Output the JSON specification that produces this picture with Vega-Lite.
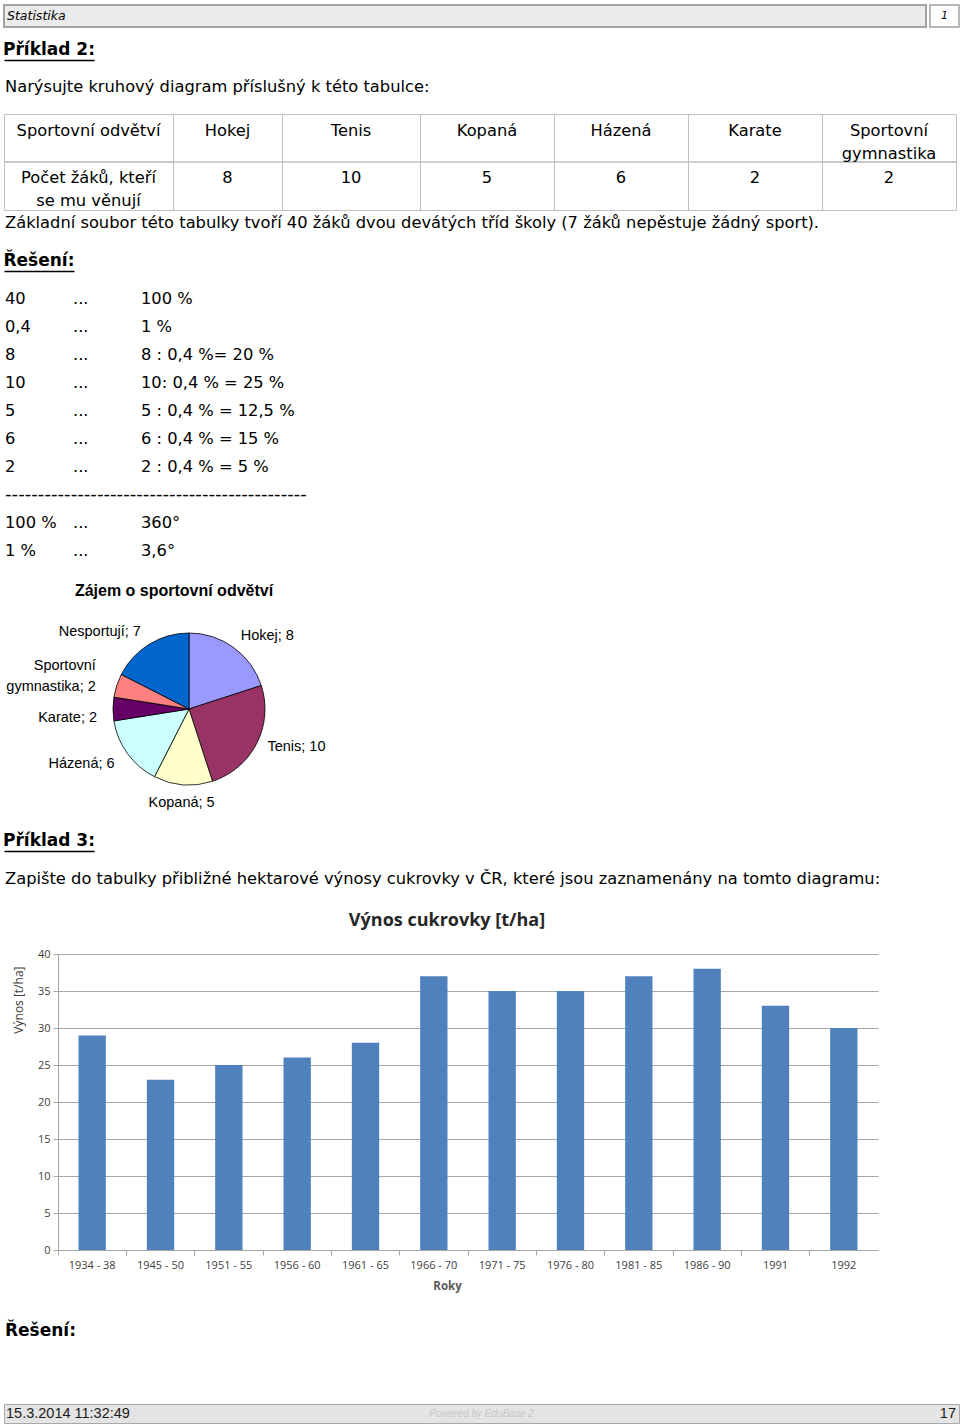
{
  "$schema": "https://vega.github.io/schema/vega-lite/v6.json",
  "background": "white",
  "padding": {"left": 3, "top": 4, "right": 2, "bottom": 2},
  "spacing": 0,
  "bounds": "flush",
  "config": {
    "view": {"stroke": null},
    "font": "DejaVu Sans",
    "text": {"fontSize": 16.3, "font": "DejaVu Sans", "color": "#000000"}
  },
  "datasets": {
    "table": [
      {"c": 0, "s": 0, "t": "Sportovní odvětví"},
      {"c": 0, "s": 2, "t": "Počet žáků, kteří"},
      {"c": 0, "s": 3, "t": "se mu věnují"},
      {"c": 1, "s": 0, "t": "Hokej"},
      {"c": 1, "s": 2, "t": "8"},
      {"c": 2, "s": 0, "t": "Tenis"},
      {"c": 2, "s": 2, "t": "10"},
      {"c": 3, "s": 0, "t": "Kopaná"},
      {"c": 3, "s": 2, "t": "5"},
      {"c": 4, "s": 0, "t": "Házená"},
      {"c": 4, "s": 2, "t": "6"},
      {"c": 5, "s": 0, "t": "Karate"},
      {"c": 5, "s": 2, "t": "2"},
      {"c": 6, "s": 0, "t": "Sportovní"},
      {"c": 6, "s": 1, "t": "gymnastika"},
      {"c": 6, "s": 2, "t": "2"}
    ],
    "calc": [
      {"line": 0, "col": 0, "t": "40"}, {"line": 0, "col": 1, "t": "..."}, {"line": 0, "col": 2, "t": "100 %"},
      {"line": 1, "col": 0, "t": "0,4"}, {"line": 1, "col": 1, "t": "..."}, {"line": 1, "col": 2, "t": "1 %"},
      {"line": 2, "col": 0, "t": "8"}, {"line": 2, "col": 1, "t": "..."}, {"line": 2, "col": 2, "t": "8 : 0,4 %= 20 %"},
      {"line": 3, "col": 0, "t": "10"}, {"line": 3, "col": 1, "t": "..."}, {"line": 3, "col": 2, "t": "10: 0,4 % = 25 %"},
      {"line": 4, "col": 0, "t": "5"}, {"line": 4, "col": 1, "t": "..."}, {"line": 4, "col": 2, "t": "5 : 0,4 % = 12,5 %"},
      {"line": 5, "col": 0, "t": "6"}, {"line": 5, "col": 1, "t": "..."}, {"line": 5, "col": 2, "t": "6 : 0,4 % = 15 %"},
      {"line": 6, "col": 0, "t": "2"}, {"line": 6, "col": 1, "t": "..."}, {"line": 6, "col": 2, "t": "2 : 0,4 % = 5 %"},
      {"line": 7, "col": 0, "t": "----------------------------------------------"},
      {"line": 8, "col": 0, "t": "100 %"}, {"line": 8, "col": 1, "t": "..."}, {"line": 8, "col": 2, "t": "360°"},
      {"line": 9, "col": 0, "t": "1 %"}, {"line": 9, "col": 1, "t": "..."}, {"line": 9, "col": 2, "t": "3,6°"}
    ],
    "sports": [
      {"i": 1, "sport": "Hokej", "n": 8, "label": "Hokej; 8"},
      {"i": 2, "sport": "Tenis", "n": 10, "label": "Tenis; 10"},
      {"i": 3, "sport": "Kopaná", "n": 5, "label": "Kopaná; 5"},
      {"i": 4, "sport": "Házená", "n": 6, "label": "Házená; 6"},
      {"i": 5, "sport": "Karate", "n": 2, "label": "Karate; 2"},
      {"i": 6, "sport": "Sportovní gymnastika", "n": 2, "label": "Sportovní\ngymnastika; 2"},
      {"i": 7, "sport": "Nesportují", "n": 7, "label": "Nesportují; 7"}
    ],
    "yields": [
      {"period": "1934 - 38", "yield": 29},
      {"period": "1945 - 50", "yield": 23},
      {"period": "1951 - 55", "yield": 25},
      {"period": "1956 - 60", "yield": 26},
      {"period": "1961 - 65", "yield": 28},
      {"period": "1966 - 70", "yield": 37},
      {"period": "1971 - 75", "yield": 35},
      {"period": "1976 - 80", "yield": 35},
      {"period": "1981 - 85", "yield": 37},
      {"period": "1986 - 90", "yield": 38},
      {"period": "1991", "yield": 33},
      {"period": "1992", "yield": 30}
    ]
  },
  "vconcat": [
    {
      "hconcat": [
        {
          "width": 922, "height": 22,
          "view": {"fill": "#ebebeb", "stroke": "#a3a3a3", "strokeWidth": 2},
          "data": {"values": [{"t": "Statistika"}]},
          "mark": {"type": "text", "align": "left", "fontStyle": "italic", "fontSize": 12.5, "dx": 3},
          "encoding": {
            "text": {"field": "t"},
            "x": {"datum": 0, "type": "quantitative", "scale": {"domain": [0, 1]}, "axis": null},
            "y": {"datum": 0.5, "type": "quantitative", "scale": {"domain": [0, 1]}, "axis": null}
          }
        },
        {
          "width": 29, "height": 22,
          "view": {"fill": "#ffffff", "stroke": "#a3a3a3", "strokeWidth": 1.5},
          "data": {"values": [{"t": "1"}]},
          "mark": {"type": "text", "fontStyle": "italic", "fontSize": 11},
          "encoding": {
            "text": {"field": "t"},
            "x": {"datum": 0.5, "type": "quantitative", "scale": {"domain": [0, 1]}, "axis": null},
            "y": {"datum": 0.5, "type": "quantitative", "scale": {"domain": [0, 1]}, "axis": null}
          }
        }
      ],
      "spacing": 4, "bounds": "flush"
    },
    {"width": 10, "height": 35, "data": {"values": []}, "mark": "point"},
    {
      "width": 90, "height": 20,
      "data": {"values": [{"t": "Příklad 2:"}]},
      "mark": {"type": "text", "fontWeight": "bold", "fontSize": 17},
      "encoding": {
        "text": {"field": "t"},
        "x": {"datum": 0.5, "type": "quantitative", "scale": {"domain": [0, 1]}, "axis": {"domain": true, "domainColor": "#000000", "domainWidth": 1.5, "ticks": false, "labels": false, "grid": false, "title": null}},
        "y": {"datum": 0.5, "type": "quantitative", "scale": {"domain": [0, 1]}, "axis": null}
      }
    },
    {
      "width": 950, "height": 54,
      "data": {"values": [{"t": "Narýsujte kruhový diagram příslušný k této tabulce:"}]},
      "mark": {"type": "text", "align": "left", "dx": 1},
      "encoding": {
        "text": {"field": "t"},
        "x": {"datum": 0, "type": "quantitative", "scale": {"domain": [0, 1]}, "axis": null},
        "y": {"datum": 0.5, "type": "quantitative", "scale": {"domain": [0, 1]}, "axis": null}
      }
    },
    {
      "hconcat": [
        {
          "width": 169, "height": 96, "view": {"stroke": "#c0c0c0"},
          "data": {"name": "table"}, "transform": [{"filter": "datum.c == 0"}],
          "layer": [
            {"mark": {"type": "rule", "color": "#c0c0c0"}, "encoding": {"y": {"datum": 0.5, "type": "quantitative", "scale": {"domain": [0, 1]}, "axis": null}}},
            {"mark": {"type": "text"}, "encoding": {"text": {"field": "t"}, "x": {"datum": 0.5, "type": "quantitative", "scale": {"domain": [0, 1]}, "axis": null}, "y": {"field": "s", "type": "quantitative", "scale": {"domain": [-0.73, 3.386], "reverse": true, "nice": false, "zero": false}, "axis": null}}}
          ],
          "resolve": {"scale": {"y": "independent"}}
        },
        {
          "width": 109, "height": 96, "view": {"stroke": "#c0c0c0"},
          "data": {"name": "table"}, "transform": [{"filter": "datum.c == 1"}],
          "layer": [
            {"mark": {"type": "rule", "color": "#c0c0c0"}, "encoding": {"y": {"datum": 0.5, "type": "quantitative", "scale": {"domain": [0, 1]}, "axis": null}}},
            {"mark": {"type": "text"}, "encoding": {"text": {"field": "t"}, "x": {"datum": 0.5, "type": "quantitative", "scale": {"domain": [0, 1]}, "axis": null}, "y": {"field": "s", "type": "quantitative", "scale": {"domain": [-0.73, 3.386], "reverse": true, "nice": false, "zero": false}, "axis": null}}}
          ],
          "resolve": {"scale": {"y": "independent"}}
        },
        {
          "width": 138, "height": 96, "view": {"stroke": "#c0c0c0"},
          "data": {"name": "table"}, "transform": [{"filter": "datum.c == 2"}],
          "layer": [
            {"mark": {"type": "rule", "color": "#c0c0c0"}, "encoding": {"y": {"datum": 0.5, "type": "quantitative", "scale": {"domain": [0, 1]}, "axis": null}}},
            {"mark": {"type": "text"}, "encoding": {"text": {"field": "t"}, "x": {"datum": 0.5, "type": "quantitative", "scale": {"domain": [0, 1]}, "axis": null}, "y": {"field": "s", "type": "quantitative", "scale": {"domain": [-0.73, 3.386], "reverse": true, "nice": false, "zero": false}, "axis": null}}}
          ],
          "resolve": {"scale": {"y": "independent"}}
        },
        {
          "width": 134, "height": 96, "view": {"stroke": "#c0c0c0"},
          "data": {"name": "table"}, "transform": [{"filter": "datum.c == 3"}],
          "layer": [
            {"mark": {"type": "rule", "color": "#c0c0c0"}, "encoding": {"y": {"datum": 0.5, "type": "quantitative", "scale": {"domain": [0, 1]}, "axis": null}}},
            {"mark": {"type": "text"}, "encoding": {"text": {"field": "t"}, "x": {"datum": 0.5, "type": "quantitative", "scale": {"domain": [0, 1]}, "axis": null}, "y": {"field": "s", "type": "quantitative", "scale": {"domain": [-0.73, 3.386], "reverse": true, "nice": false, "zero": false}, "axis": null}}}
          ],
          "resolve": {"scale": {"y": "independent"}}
        },
        {
          "width": 134, "height": 96, "view": {"stroke": "#c0c0c0"},
          "data": {"name": "table"}, "transform": [{"filter": "datum.c == 4"}],
          "layer": [
            {"mark": {"type": "rule", "color": "#c0c0c0"}, "encoding": {"y": {"datum": 0.5, "type": "quantitative", "scale": {"domain": [0, 1]}, "axis": null}}},
            {"mark": {"type": "text"}, "encoding": {"text": {"field": "t"}, "x": {"datum": 0.5, "type": "quantitative", "scale": {"domain": [0, 1]}, "axis": null}, "y": {"field": "s", "type": "quantitative", "scale": {"domain": [-0.73, 3.386], "reverse": true, "nice": false, "zero": false}, "axis": null}}}
          ],
          "resolve": {"scale": {"y": "independent"}}
        },
        {
          "width": 134, "height": 96, "view": {"stroke": "#c0c0c0"},
          "data": {"name": "table"}, "transform": [{"filter": "datum.c == 5"}],
          "layer": [
            {"mark": {"type": "rule", "color": "#c0c0c0"}, "encoding": {"y": {"datum": 0.5, "type": "quantitative", "scale": {"domain": [0, 1]}, "axis": null}}},
            {"mark": {"type": "text"}, "encoding": {"text": {"field": "t"}, "x": {"datum": 0.5, "type": "quantitative", "scale": {"domain": [0, 1]}, "axis": null}, "y": {"field": "s", "type": "quantitative", "scale": {"domain": [-0.73, 3.386], "reverse": true, "nice": false, "zero": false}, "axis": null}}}
          ],
          "resolve": {"scale": {"y": "independent"}}
        },
        {
          "width": 134, "height": 96, "view": {"stroke": "#c0c0c0"},
          "data": {"name": "table"}, "transform": [{"filter": "datum.c == 6"}],
          "layer": [
            {"mark": {"type": "rule", "color": "#c0c0c0"}, "encoding": {"y": {"datum": 0.5, "type": "quantitative", "scale": {"domain": [0, 1]}, "axis": null}}},
            {"mark": {"type": "text"}, "encoding": {"text": {"field": "t"}, "x": {"datum": 0.5, "type": "quantitative", "scale": {"domain": [0, 1]}, "axis": null}, "y": {"field": "s", "type": "quantitative", "scale": {"domain": [-0.73, 3.386], "reverse": true, "nice": false, "zero": false}, "axis": null}}}
          ],
          "resolve": {"scale": {"y": "independent"}}
        }
      ],
      "spacing": 0, "bounds": "flush"
    },
    {"width": 10, "height": 96, "data": {"values": []}, "mark": "point"},
    {
      "width": 950, "height": 26,
      "data": {"values": [{"t": "Základní soubor této tabulky tvoří 40 žáků dvou devátých tříd školy (7 žáků nepěstuje žádný sport)."}]},
      "mark": {"type": "text", "align": "left", "dx": 1},
      "encoding": {
        "text": {"field": "t"},
        "x": {"datum": 0, "type": "quantitative", "scale": {"domain": [0, 1]}, "axis": null},
        "y": {"datum": 0.5, "type": "quantitative", "scale": {"domain": [0, 1]}, "axis": null}
      }
    },
    {"width": 10, "height": 15, "data": {"values": []}, "mark": "point"},
    {
      "width": 70, "height": 20,
      "data": {"values": [{"t": "Řešení:"}]},
      "mark": {"type": "text", "fontWeight": "bold", "fontSize": 17},
      "encoding": {
        "text": {"field": "t"},
        "x": {"datum": 0.5, "type": "quantitative", "scale": {"domain": [0, 1]}, "axis": {"domain": true, "domainColor": "#000000", "domainWidth": 1.5, "ticks": false, "labels": false, "grid": false, "title": null}},
        "y": {"datum": 0.5, "type": "quantitative", "scale": {"domain": [0, 1]}, "axis": null}
      }
    },
    {"width": 10, "height": 14, "data": {"values": []}, "mark": "point"},
    {
      "width": 136, "height": 280,
      "data": {"name": "calc"},
      "encoding": {
        "text": {"field": "t"},
        "x": {"field": "col", "type": "quantitative", "scale": {"domain": [0, 2], "nice": false}, "axis": null},
        "y": {"field": "line", "type": "ordinal", "axis": null}
      },
      "layer": [
        {"transform": [{"filter": "datum.line != 7"}], "mark": {"type": "text", "align": "left", "dx": 1}},
        {"transform": [{"filter": "datum.line == 7"}], "mark": {"type": "text", "align": "left", "dx": 1, "fontSize": 18.2}}
      ]
    },
    {"width": 10, "height": 22, "data": {"values": []}, "mark": "point"},
    {
      "width": 370, "height": 244,
      "title": {"text": "Zájem o sportovní odvětví", "font": "Liberation Sans", "fontSize": 16, "fontWeight": "bold", "color": "#000000", "dx": -15, "offset": -12},
      "data": {"name": "sports"},
      "encoding": {
        "theta": {"field": "n", "type": "quantitative", "stack": true},
        "order": {"field": "i", "type": "quantitative"},
        "detail": {"field": "sport", "type": "nominal"}
      },
      "layer": [
        {
          "mark": {"type": "arc", "outerRadius": 76, "stroke": "#000000", "strokeWidth": 0.8},
          "encoding": {
            "color": {"field": "sport", "type": "nominal", "legend": null,
              "scale": {"domain": ["Hokej", "Tenis", "Kopaná", "Házená", "Karate", "Sportovní gymnastika", "Nesportují"],
                        "range": ["#9999ff", "#993366", "#ffffcc", "#ccffff", "#660066", "#ff8080", "#0066cc"]}}
          }
        },
        {
          "mark": {"type": "text", "radius": 88, "align": "left", "dy": -2, "font": "Liberation Sans", "fontSize": 14.5},
          "encoding": {"text": {"condition": {"test": "datum.sport == 'Hokej' || datum.sport == 'Tenis'", "field": "label"}, "value": ""}}
        },
        {
          "mark": {"type": "text", "radius": 94, "align": "center", "font": "Liberation Sans", "fontSize": 14.5},
          "encoding": {"text": {"condition": {"test": "datum.sport == 'Kopaná'", "field": "label"}, "value": ""}}
        },
        {
          "mark": {"type": "text", "radius": 92, "align": "right", "dy": 1, "font": "Liberation Sans", "fontSize": 14.5},
          "encoding": {"text": {"condition": {"test": "datum.sport == 'Házená' || datum.sport == 'Nesportují'", "field": "label"}, "value": ""}}
        },
        {
          "mark": {"type": "text", "radius": 92, "align": "right", "dy": 9, "font": "Liberation Sans", "fontSize": 14.5},
          "encoding": {"text": {"condition": {"test": "datum.sport == 'Karate'", "field": "label"}, "value": ""}}
        },
        {
          "mark": {"type": "text", "radius": 98, "align": "right", "dy": -13, "font": "Liberation Sans", "fontSize": 14.5, "lineBreak": "\n", "lineHeight": 21},
          "encoding": {"text": {"condition": {"test": "datum.sport == 'Sportovní gymnastika'", "field": "label"}, "value": ""}}
        }
      ]
    },
    {
      "width": 90, "height": 20,
      "data": {"values": [{"t": "Příklad 3:"}]},
      "mark": {"type": "text", "fontWeight": "bold", "fontSize": 17},
      "encoding": {
        "text": {"field": "t"},
        "x": {"datum": 0.5, "type": "quantitative", "scale": {"domain": [0, 1]}, "axis": {"domain": true, "domainColor": "#000000", "domainWidth": 1.5, "ticks": false, "labels": false, "grid": false, "title": null}},
        "y": {"datum": 0.5, "type": "quantitative", "scale": {"domain": [0, 1]}, "axis": null}
      }
    },
    {
      "width": 950, "height": 56,
      "data": {"values": [{"t": "Zapište do tabulky přibližné hektarové výnosy cukrovky v ČR, které jsou zaznamenány na tomto diagramu:"}]},
      "mark": {"type": "text", "align": "left", "dx": 1},
      "encoding": {
        "text": {"field": "t"},
        "x": {"datum": 0, "type": "quantitative", "scale": {"domain": [0, 1]}, "axis": null},
        "y": {"datum": 0.5, "type": "quantitative", "scale": {"domain": [0, 1]}, "axis": null}
      }
    },
    {"width": 10, "height": 47, "data": {"values": []}, "mark": "point"},
    {
      "hconcat": [
        {"width": 54, "height": 10, "data": {"values": []}, "mark": "point"},
        {
          "width": 820, "height": 296,
          "title": {"text": "Výnos cukrovky [t/ha]", "font": "Open Sans", "fontSize": 18, "fontWeight": "bold", "color": "#262626", "dx": -21, "offset": 18},
          "data": {"name": "yields"},
          "mark": {"type": "bar", "color": "#4f81bd", "width": {"band": 0.4}},
          "encoding": {
            "x": {"field": "period", "type": "nominal", "sort": null,
              "scale": {"paddingInner": 0, "paddingOuter": 0},
              "axis": {"title": "Roky", "bandPosition": 0, "labelAngle": 0, "ticks": true, "tickSize": 5, "tickColor": "#a6a6a6", "domainColor": "#a6a6a6",
                       "labelFont": "Open Sans", "labelFontSize": 11, "labelColor": "#404040", "labelPadding": 4,
                       "titleFont": "Open Sans", "titleFontSize": 11.5, "titleFontWeight": "bold", "titleColor": "#595959", "titleX": 389, "titlePadding": 10}},
            "y": {"field": "yield", "type": "quantitative", "scale": {"domain": [0, 40]},
              "axis": {"title": "Výnos [t/ha]", "values": [0, 5, 10, 15, 20, 25, 30, 35, 40], "grid": true, "gridColor": "#a6a6a6", "domainColor": "#a6a6a6", "tickColor": "#a6a6a6", "tickSize": 5,
                       "labelFont": "Open Sans", "labelFontSize": 11, "labelColor": "#404040", "labelPadding": 3,
                       "titleAnchor": "end", "titleY": 12, "titleFont": "Open Sans", "titleFontSize": 12, "titleFontWeight": "normal", "titleColor": "#404040", "titlePadding": 12}}
          }
        }
      ],
      "spacing": 0, "bounds": "flush"
    },
    {"width": 10, "height": 367, "data": {"values": []}, "mark": "point"},
    {
      "width": 200, "height": 20,
      "data": {"values": [{"t": "Řešení:"}]},
      "mark": {"type": "text", "fontWeight": "bold", "fontSize": 17, "align": "left", "dx": 1},
      "encoding": {
        "text": {"field": "t"},
        "x": {"datum": 0, "type": "quantitative", "scale": {"domain": [0, 1]}, "axis": null},
        "y": {"datum": 0.5, "type": "quantitative", "scale": {"domain": [0, 1]}, "axis": null}
      }
    },
    {"width": 10, "height": 63, "data": {"values": []}, "mark": "point"},
    {
      "width": 955, "height": 19,
      "view": {"fill": "#e4e4e4", "stroke": "#a8a8a8"},
      "data": {"values": [{"part": "date", "t": "15.3.2014 11:32:49"}, {"part": "brand", "t": "Powered by EduBase 2"}, {"part": "page", "t": "17"}]},
      "encoding": {
        "text": {"field": "t"},
        "y": {"datum": 0.5, "type": "quantitative", "scale": {"domain": [0, 1]}, "axis": null}
      },
      "layer": [
        {"transform": [{"filter": "datum.part == 'date'"}], "mark": {"type": "text", "align": "left", "dx": 2, "font": "Liberation Sans", "fontSize": 14.5, "color": "#1a1a1a"},
         "encoding": {"x": {"datum": 0, "type": "quantitative", "scale": {"domain": [0, 1]}, "axis": null}}},
        {"transform": [{"filter": "datum.part == 'brand'"}], "mark": {"type": "text", "align": "center", "font": "Liberation Sans", "fontSize": 10, "fontStyle": "italic", "color": "#c8c8c8"},
         "encoding": {"x": {"datum": 0.5, "type": "quantitative", "scale": {"domain": [0, 1]}, "axis": null}}},
        {"transform": [{"filter": "datum.part == 'page'"}], "mark": {"type": "text", "align": "right", "dx": -3, "font": "Liberation Sans", "fontSize": 14.5, "color": "#1a1a1a"},
         "encoding": {"x": {"datum": 1, "type": "quantitative", "scale": {"domain": [0, 1]}, "axis": null}}}
      ]
    }
  ]
}
